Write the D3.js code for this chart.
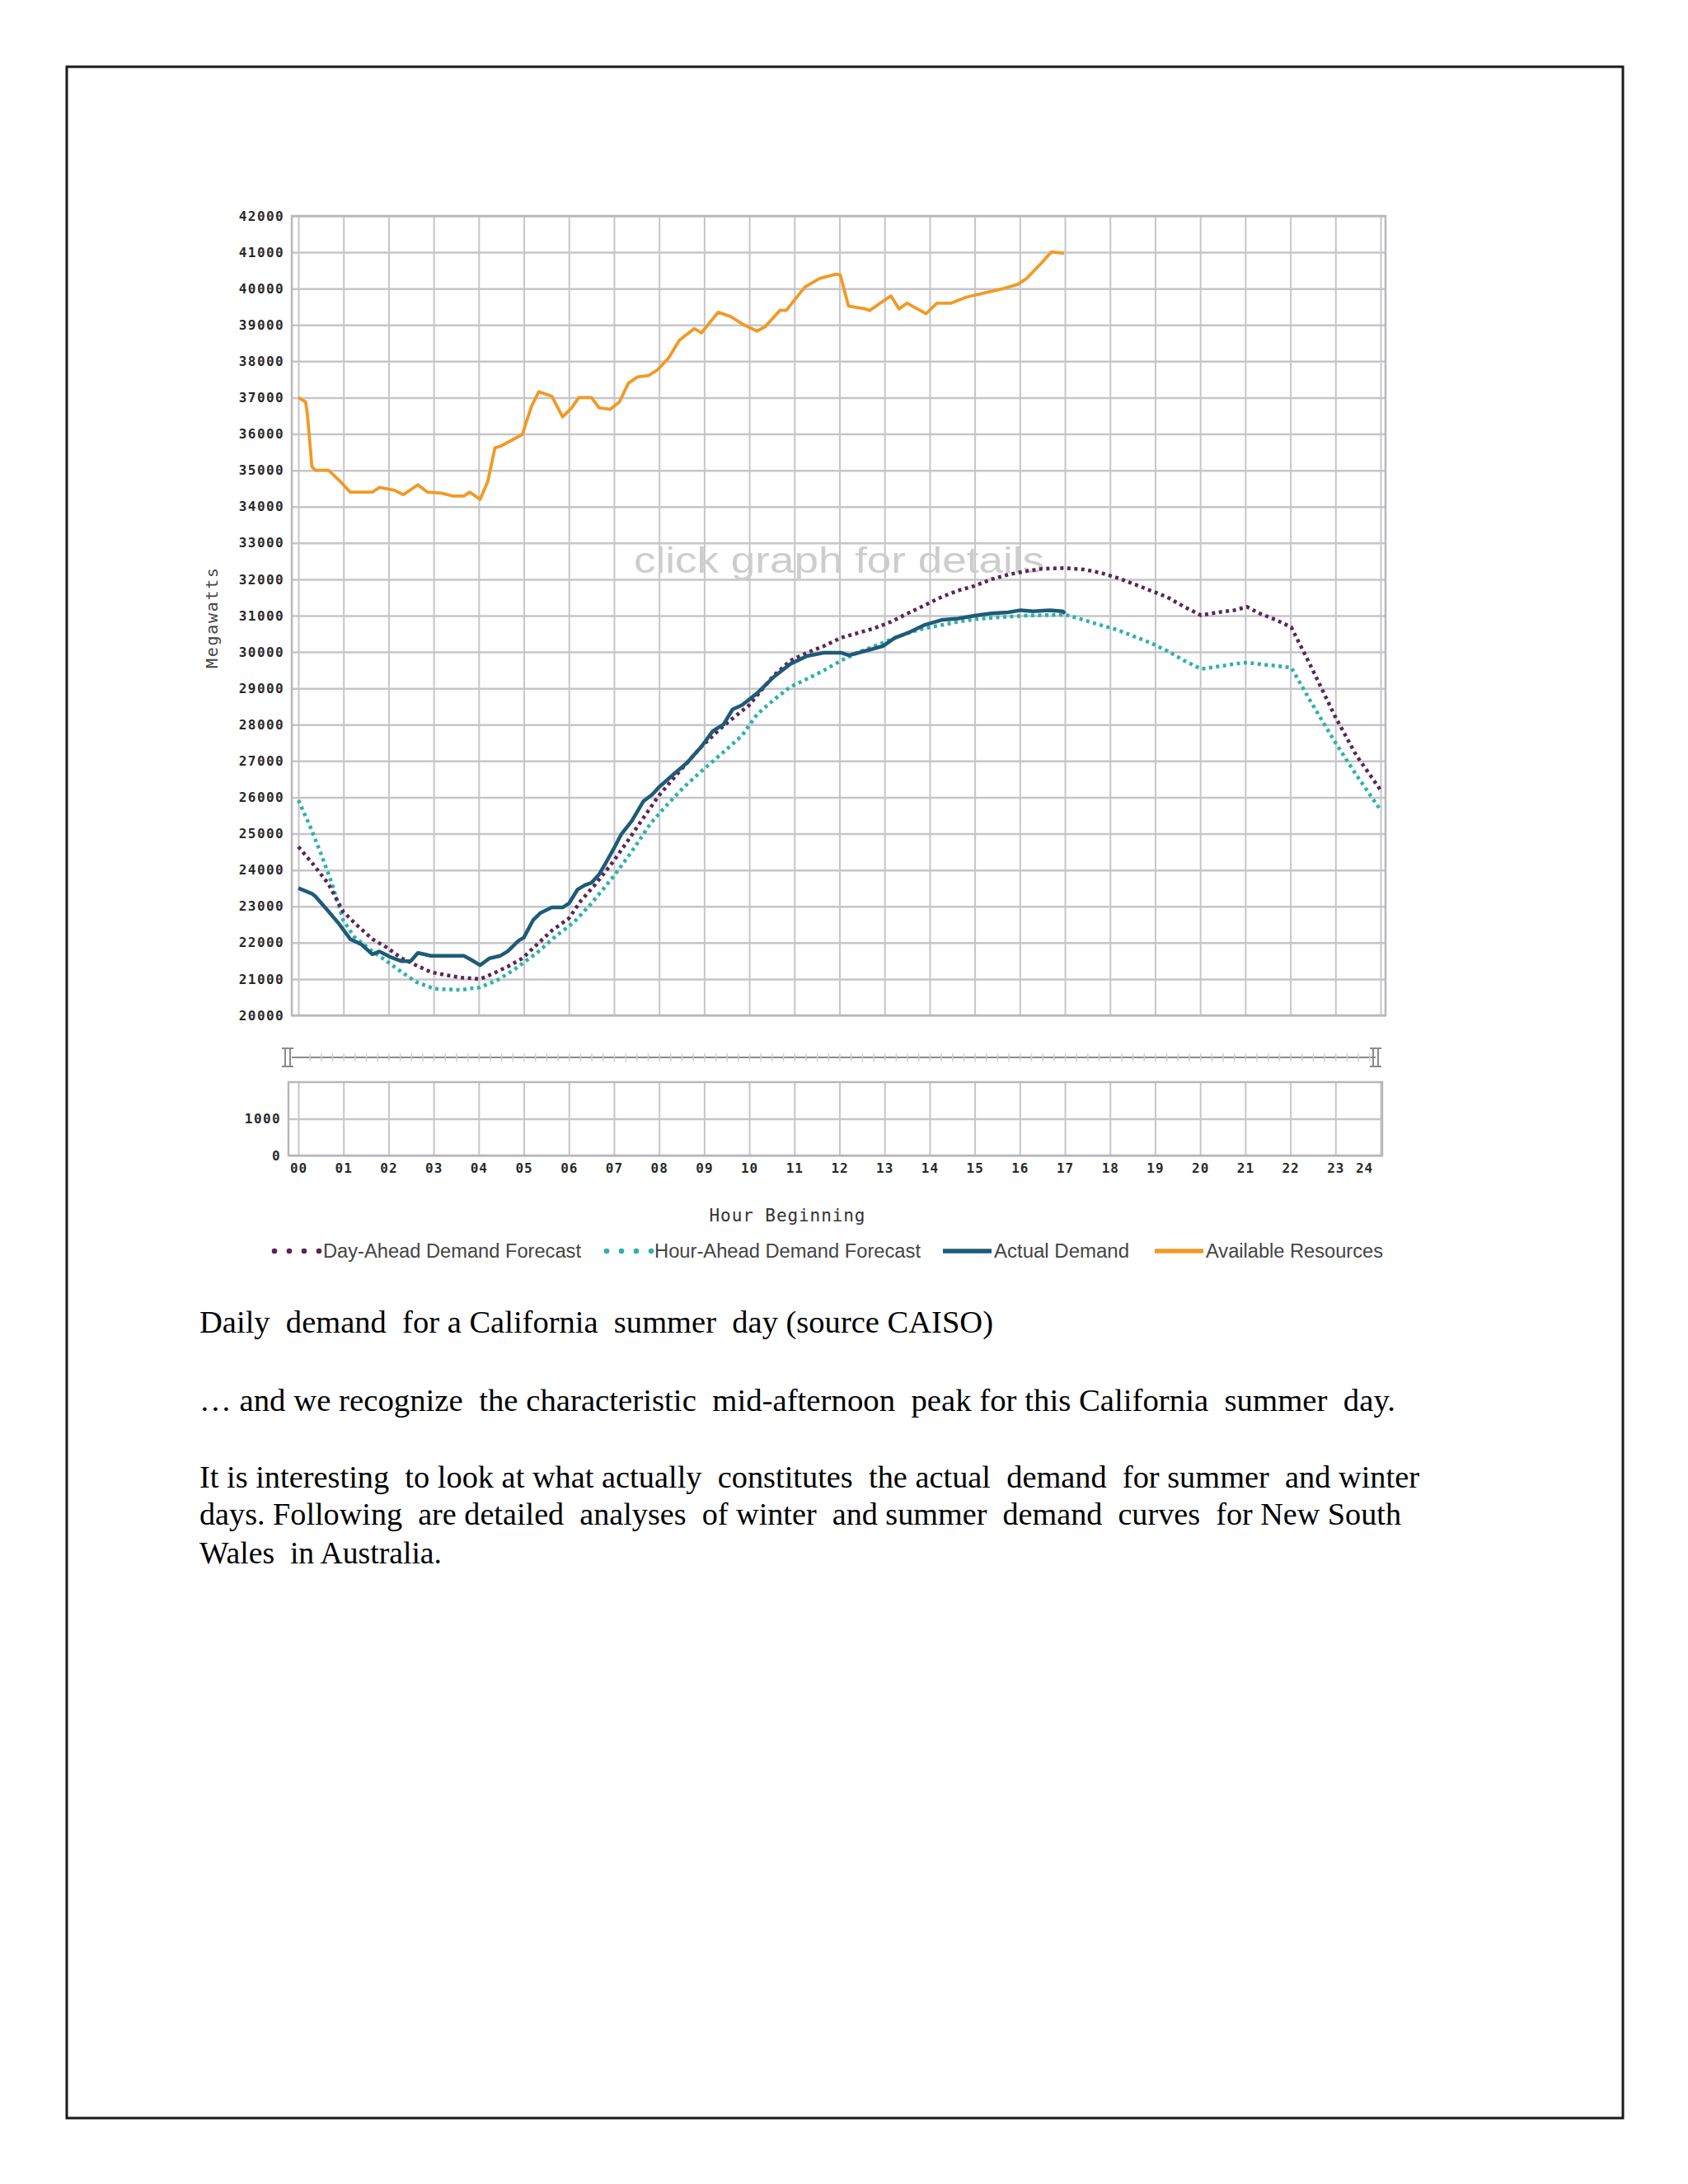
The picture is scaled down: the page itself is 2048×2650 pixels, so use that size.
<!DOCTYPE html>
<html>
<head>
<meta charset="utf-8">
<script src="https://cdn.jsdelivr.net/npm/d3@7"></script>
<style>
  body { margin: 0; background: #ffffff; }
</style>
</head>
<body>
<script>
// 画布尺寸
var w = 2048;
var h = 2650;

// 横轴：小时刻度及标签
var hourValues = [0, 1, 2, 3, 4, 5, 6, 7, 8, 9, 10, 11, 12, 13, 14, 15, 16, 17, 18, 19, 20, 21, 22, 23, 24];
var hourLabels = ["00", "01", "02", "03", "04", "05", "06", "07", "08", "09", "10", "11", "12",
  "13", "14", "15", "16", "17", "18", "19", "20", "21", "22", "23", "24"];

// 纵轴刻度（兆瓦）
var mwTicks = [20000, 21000, 22000, 23000, 24000, 25000, 26000, 27000, 28000, 29000, 30000, 31000,
  32000, 33000, 34000, 35000, 36000, 37000, 38000, 39000, 40000, 41000, 42000];
var lowTicks = [0, 1000];

// 各序列数据：[小时, 兆瓦]
var dayAheadForecast = [
  [0, 24640], [0.34, 24140], [0.67, 23610], [0.99, 22860], [1.3, 22480], [1.64, 22100], [1.96, 21870],
  [2.29, 21570], [2.61, 21380], [2.94, 21190], [3.26, 21110], [3.59, 21040], [4.03, 21000], [4.32, 21150],
  [4.64, 21340], [4.97, 21570], [5.29, 21950], [5.62, 22330], [6.0, 22670], [6.27, 23160], [6.59, 23610],
  [7.0, 24260], [7.32, 24830], [7.65, 25430], [7.99, 26040], [8.38, 26610], [8.94, 27400], [9.43, 27970],
  [10.0, 28540], [10.17, 28800], [10.54, 29350], [10.91, 29760], [11.28, 29980], [11.65, 30160],
  [12.03, 30390], [12.4, 30520], [12.77, 30650], [13.14, 30830], [13.51, 31060], [13.88, 31280],
  [14.26, 31510], [14.63, 31690], [15.0, 31820], [15.37, 32000], [15.74, 32130], [16.12, 32220],
  [16.49, 32290], [17.0, 32310], [17.42, 32270], [17.79, 32180], [18.16, 32040], [18.53, 31870],
  [18.9, 31690], [19.27, 31510], [19.65, 31240], [20.02, 31010], [20.39, 31090], [20.76, 31150],
  [21.04, 31240], [21.32, 31060], [21.69, 30880], [22.02, 30680], [22.43, 29670], [22.99, 28230],
  [23.46, 27160], [24, 26200]
];

var hourAheadForecast = [
  [0, 25920], [0.26, 25200], [0.5, 24450], [0.75, 23610], [0.99, 22630], [1.23, 22170], [1.64, 21760],
  [1.96, 21490], [2.29, 21190], [2.61, 20920], [3.02, 20730], [3.59, 20700], [4.03, 20770], [4.4, 20960],
  [4.8, 21270], [5.29, 21720], [5.7, 22170], [6.1, 22550], [6.5, 23080], [7.0, 23840], [7.4, 24520],
  [7.81, 25280], [8.13, 25730], [8.54, 26270], [8.94, 26720], [9.43, 27250], [9.84, 27700],
  [10.17, 28280], [10.54, 28680], [10.91, 29040], [11.28, 29260], [11.65, 29490], [12.03, 29760],
  [12.4, 29980], [12.77, 30160], [13.14, 30340], [13.51, 30520], [13.88, 30650], [14.26, 30740],
  [14.63, 30830], [15.0, 30900], [15.37, 30940], [15.74, 30970], [16.12, 31000], [16.49, 31010],
  [17.0, 31030], [17.42, 30880], [17.79, 30740], [18.16, 30610], [18.53, 30430], [18.9, 30250],
  [19.27, 30030], [19.65, 29760], [20.02, 29530], [20.39, 29600], [20.76, 29670], [21.04, 29710],
  [21.41, 29650], [21.69, 29620], [22.02, 29570], [22.43, 28680], [22.99, 27520], [23.46, 26620],
  [24, 25650]
];

var actualDemand = [
  [0, 23500], [0.3, 23350], [0.38, 23270], [0.67, 22860], [0.9, 22520], [1.15, 22100], [1.4, 21950],
  [1.64, 21680], [1.8, 21760], [2.05, 21600], [2.29, 21490], [2.49, 21490], [2.65, 21720], [2.94, 21640],
  [3.26, 21640], [3.67, 21640], [3.83, 21530], [4.03, 21380], [4.24, 21570], [4.48, 21640], [4.64, 21760],
  [4.89, 22060], [5.0, 22140], [5.21, 22630], [5.37, 22820], [5.62, 22970], [5.86, 22970], [6.0, 23080],
  [6.19, 23460], [6.35, 23580], [6.5, 23650], [6.67, 23880], [6.83, 24220], [7.0, 24600], [7.16, 24980],
  [7.4, 25360], [7.65, 25890], [7.85, 26080], [7.99, 26270], [8.3, 26610], [8.62, 26950], [8.94, 27400],
  [9.19, 27820], [9.43, 28010], [9.63, 28420], [9.84, 28540], [10.17, 28860], [10.54, 29310],
  [10.91, 29670], [11.28, 29890], [11.65, 29980], [12.03, 29980], [12.21, 29910], [12.58, 30030],
  [12.96, 30160], [13.23, 30390], [13.51, 30520], [13.88, 30740], [14.26, 30880], [14.63, 30920],
  [15.0, 31000], [15.37, 31060], [15.74, 31090], [16.02, 31150], [16.3, 31120], [16.67, 31150],
  [16.95, 31120], [17.0, 31060]
];

var availableResources = [
  [0, 37000], [0.16, 36880], [0.2, 36550], [0.3, 35100], [0.38, 35000], [0.67, 35000], [0.9, 34730],
  [1.15, 34400], [1.64, 34400], [1.8, 34530], [2.13, 34450], [2.33, 34330], [2.65, 34600], [2.86, 34400],
  [3.18, 34370], [3.43, 34290], [3.67, 34290], [3.8, 34400], [4.03, 34200], [4.2, 34690], [4.36, 35620],
  [4.48, 35660], [4.72, 35820], [4.97, 35990], [5.05, 36310], [5.17, 36760], [5.33, 37160], [5.62, 37040],
  [5.86, 36470], [6.06, 36720], [6.22, 37000], [6.5, 37000], [6.67, 36720], [6.92, 36680], [7.12, 36880],
  [7.32, 37400], [7.52, 37570], [7.77, 37610], [7.97, 37770], [8.21, 38090], [8.45, 38580], [8.78, 38900],
  [8.94, 38780], [9.1, 39030], [9.31, 39350], [9.59, 39230], [9.84, 39030], [10.17, 38830], [10.35, 38950],
  [10.68, 39400], [10.82, 39400], [11.23, 40040], [11.56, 40280], [11.93, 40400], [12.02, 40370],
  [12.2, 39520], [12.58, 39440], [12.67, 39400], [13.0, 39680], [13.14, 39800], [13.32, 39440],
  [13.5, 39600], [13.92, 39310], [14.16, 39600], [14.48, 39600], [14.8, 39760], [15.36, 39920],
  [15.64, 40000], [15.96, 40120], [16.15, 40280], [16.47, 40690], [16.7, 41010], [16.98, 40970]
];

// 图例文字与页面正文
var legendNames = ["Day-Ahead Demand Forecast", "Hour-Ahead Demand Forecast", "Actual Demand", "Available Resources"];
var captionLines = [
  "Daily  demand  for a California  summer  day (source CAISO)",
  "… and we recognize  the characteristic  mid-afternoon  peak for this California  summer  day.",
  "It is interesting  to look at what actually  constitutes  the actual  demand  for summer  and winter",
  "days. Following  are detailed  analyses  of winter  and summer  demand  curves  for New South",
  "Wales  in Australia."
];

// 创建 SVG 画布
var svg = d3.select("body").append("svg").attr("width", w).attr("height", h);
svg.append("rect").attr("width", w).attr("height", h).attr("fill", "#ffffff");

// 页面外框
svg.append("rect")
  .attr("x", 81).attr("y", 81)
  .attr("width", 1888).attr("height", 2489)
  .attr("fill", "none")
  .attr("stroke", "#1a1a1a")
  .attr("stroke-width", 3);

// 比例尺
var xScale = d3.scaleLinear().domain([0, 24]).range([362, 1675]);
var yScale = d3.scaleLinear().domain([20000, 42000]).range([1232, 262]);
var yScaleLow = d3.scaleLinear().domain([0, 2000]).range([1402, 1313]);

var frameLeft = xScale(0) - 8;
var frameRight = xScale(24) + 6;
var gridColor = "#c6c6ca";

// 横向网格线
var hGrid = svg.append("g")
  .attr("transform", "translate(" + frameLeft + ",0)")
  .call(d3.axisLeft(yScale).tickValues(mwTicks).tickSize(-(frameRight - frameLeft)).tickFormat(""));
hGrid.select(".domain").remove();
hGrid.selectAll("line").attr("stroke", gridColor).attr("stroke-width", 2.5);

// 纵向网格线
var vGrid = svg.append("g")
  .attr("transform", "translate(0," + yScale(20000) + ")")
  .call(d3.axisBottom(xScale).tickValues(hourValues).tickSize(-(yScale(20000) - yScale(42000))).tickFormat(""));
vGrid.select(".domain").remove();
vGrid.selectAll("line").attr("stroke", gridColor).attr("stroke-width", 2);

// 主图边框
svg.append("rect")
  .attr("x", frameLeft).attr("y", yScale(42000))
  .attr("width", frameRight - frameLeft).attr("height", yScale(20000) - yScale(42000))
  .attr("fill", "none").attr("stroke", "#b8b8bc").attr("stroke-width", 2.5);

// 纵轴标签
var yAxis = svg.append("g")
  .attr("transform", "translate(345,0)")
  .call(d3.axisLeft(yScale).tickValues(mwTicks).tickSize(0).tickPadding(0).tickFormat(d3.format("d")));
yAxis.select(".domain").remove();
yAxis.selectAll("text")
  .attr("font-family", "DejaVu Sans Mono")
  .attr("font-weight", "bold")
  .attr("font-size", "16px")
  .attr("letter-spacing", "1.4px")
  .attr("fill", "#2a2a2a");

// 水印文字
svg.append("text")
  .attr("x", 769).attr("y", 695)
  .attr("textLength", 498)
  .attr("lengthAdjust", "spacingAndGlyphs")
  .attr("font-family", "Liberation Sans")
  .attr("font-size", "44px")
  .attr("fill", "#cdcdcd")
  .text("click graph for details");

// 纵轴标题
svg.append("text")
  .attr("transform", "translate(264,750) rotate(-90)")
  .attr("text-anchor", "middle")
  .attr("textLength", 122)
  .attr("font-family", "DejaVu Sans Mono")
  .attr("font-size", "20px")
  .attr("fill", "#444")
  .text("Megawatts");

// 折线生成器
var line = d3.line()
  .x(function (d) { return xScale(d[0]); })
  .y(function (d) { return yScale(d[1]); });

// 绘制各序列（虚线为预测，实线为实际值和可用资源）
svg.append("path")
  .datum(hourAheadForecast)
  .attr("d", line)
  .attr("fill", "none")
  .attr("stroke", "#2fb1ad")
  .attr("stroke-width", 4.5)
  .attr("stroke-dasharray", "4,4.5");

svg.append("path")
  .datum(dayAheadForecast)
  .attr("d", line)
  .attr("fill", "none")
  .attr("stroke", "#5a2658")
  .attr("stroke-width", 4.5)
  .attr("stroke-dasharray", "4,4.5");

svg.append("path")
  .datum(actualDemand)
  .attr("d", line)
  .attr("fill", "none")
  .attr("stroke", "#1f5b78")
  .attr("stroke-width", 4.5)
  .attr("stroke-linejoin", "round");

svg.append("path")
  .datum(availableResources)
  .attr("d", line)
  .attr("fill", "none")
  .attr("stroke", "#f09a26")
  .attr("stroke-width", 3.8)
  .attr("stroke-linejoin", "round");

// 滚动条（时间范围选择器）
var scrollY = 1283;
svg.append("line")
  .attr("x1", xScale(0) - 8).attr("x2", xScale(24) - 6)
  .attr("y1", scrollY).attr("y2", scrollY)
  .attr("stroke", "#8a8a8a").attr("stroke-width", 2);

var scrollTicks = svg.append("g")
  .attr("transform", "translate(0," + (scrollY + 5) + ")")
  .call(d3.axisBottom(xScale).tickValues(d3.range(0.25, 24, 0.25)).tickSize(-10).tickFormat(""));
scrollTicks.select(".domain").remove();
scrollTicks.selectAll("line").attr("stroke", "#d0d0d0").attr("stroke-width", 1.5);

// 滚动条两端的手柄
[xScale(0) - 13, xScale(24) - 6].forEach(function (cx) {
  svg.append("path")
    .attr("d", "M" + (cx - 7) + "," + (scrollY - 11) + "H" + (cx + 7) +
      "M" + (cx - 7) + "," + (scrollY + 11) + "H" + (cx + 7) +
      "M" + (cx - 3) + "," + (scrollY - 11) + "V" + (scrollY + 11) +
      "M" + (cx + 3) + "," + (scrollY - 11) + "V" + (scrollY + 11))
    .attr("fill", "none")
    .attr("stroke", "#8a8a8a")
    .attr("stroke-width", 2);
});

// 下方小图：网格与边框
var lowLeft = xScale(0) - 12;
var lowRight = xScale(24) + 2;

var lowHGrid = svg.append("g")
  .attr("transform", "translate(" + lowLeft + ",0)")
  .call(d3.axisLeft(yScaleLow).tickValues(lowTicks).tickSize(-(lowRight - lowLeft)).tickFormat(""));
lowHGrid.select(".domain").remove();
lowHGrid.selectAll("line").attr("stroke", gridColor).attr("stroke-width", 2.5);

var lowVGrid = svg.append("g")
  .attr("transform", "translate(0," + yScaleLow(0) + ")")
  .call(d3.axisBottom(xScale).tickValues(hourValues).tickSize(-(yScaleLow(0) - yScaleLow(2000))).tickFormat(""));
lowVGrid.select(".domain").remove();
lowVGrid.selectAll("line").attr("stroke", gridColor).attr("stroke-width", 2);

svg.append("rect")
  .attr("x", lowLeft).attr("y", yScaleLow(2000))
  .attr("width", lowRight - lowLeft).attr("height", yScaleLow(0) - yScaleLow(2000))
  .attr("fill", "none").attr("stroke", "#b8b8bc").attr("stroke-width", 2.5);

var lowAxis = svg.append("g")
  .attr("transform", "translate(341,0)")
  .call(d3.axisLeft(yScaleLow).tickValues(lowTicks).tickSize(0).tickPadding(0).tickFormat(d3.format("d")));
lowAxis.select(".domain").remove();
lowAxis.selectAll("text")
  .attr("font-family", "DejaVu Sans Mono")
  .attr("font-weight", "bold")
  .attr("font-size", "16px")
  .attr("letter-spacing", "1.4px")
  .attr("fill", "#2a2a2a");

// 横轴标签
var xAxis = svg.append("g")
  .attr("transform", "translate(0," + (yScaleLow(0) + 10) + ")")
  .call(d3.axisBottom(xScale).tickValues(hourValues).tickSize(0).tickPadding(0)
    .tickFormat(function (d, i) { return hourLabels[i]; }));
xAxis.select(".domain").remove();
xAxis.selectAll("text")
  .attr("font-family", "DejaVu Sans Mono")
  .attr("font-weight", "bold")
  .attr("font-size", "16px")
  .attr("letter-spacing", "1px")
  .attr("fill", "#2a2a2a");
// 最后一个标签 "24" 向左挤
xAxis.selectAll(".tick").filter(function (d) { return d === 24; })
  .select("text").attr("x", -20);

// 横轴标题
svg.append("text")
  .attr("x", 955).attr("y", 1482)
  .attr("text-anchor", "middle")
  .attr("textLength", 189)
  .attr("font-family", "DejaVu Sans Mono")
  .attr("font-size", "21px")
  .attr("fill", "#333")
  .text("Hour Beginning");

// 图例
var legendY = 1518;
var legendLayout = [
  { x: 330, textX: 392, len: 313, color: "#5a2658", kind: "dot" },
  { x: 733, textX: 794, len: 323, color: "#2fb1ad", kind: "dot" },
  { x: 1144, textX: 1206, len: 164, color: "#1f5b78", kind: "line" },
  { x: 1401, textX: 1463, len: 215, color: "#f09a26", kind: "line" }
];

legendNames.forEach(function (name, i) {
  var item = legendLayout[i];
  if (item.kind === "dot") {
    svg.append("g").selectAll("circle")
      .data([0, 1, 2, 3])
      .enter()
      .append("circle")
      .attr("cx", function (k) { return item.x + 3 + k * 18; })
      .attr("cy", legendY)
      .attr("r", 3.3)
      .attr("fill", item.color);
  } else {
    svg.append("line")
      .attr("x1", item.x).attr("x2", item.x + 59)
      .attr("y1", legendY).attr("y2", legendY)
      .attr("stroke", item.color)
      .attr("stroke-width", 5.5);
  }
  svg.append("text")
    .attr("x", item.textX).attr("y", legendY + 8)
    .attr("textLength", item.len)
    .attr("lengthAdjust", "spacingAndGlyphs")
    .attr("font-family", "Liberation Sans")
    .attr("font-size", "23px")
    .attr("fill", "#444")
    .text(name);
});

// 页面正文
var captionBaselines = [1617, 1712, 1805, 1850, 1897];
var captionWidths = [963, 1451, 1480, 1458, 294];
svg.selectAll(".caption")
  .data(captionLines)
  .enter()
  .append("text")
  .attr("class", "caption")
  .attr("x", 242)
  .attr("y", function (d, i) { return captionBaselines[i]; })
  .attr("textLength", function (d, i) { return captionWidths[i]; })
  .attr("lengthAdjust", "spacingAndGlyphs")
  .attr("font-family", "Liberation Serif")
  .attr("font-size", "37px")
  .attr("fill", "#000")
  .attr("xml:space", "preserve")
  .style("white-space", "pre")
  .text(function (d) { return d; });
</script>
</body>
</html>
